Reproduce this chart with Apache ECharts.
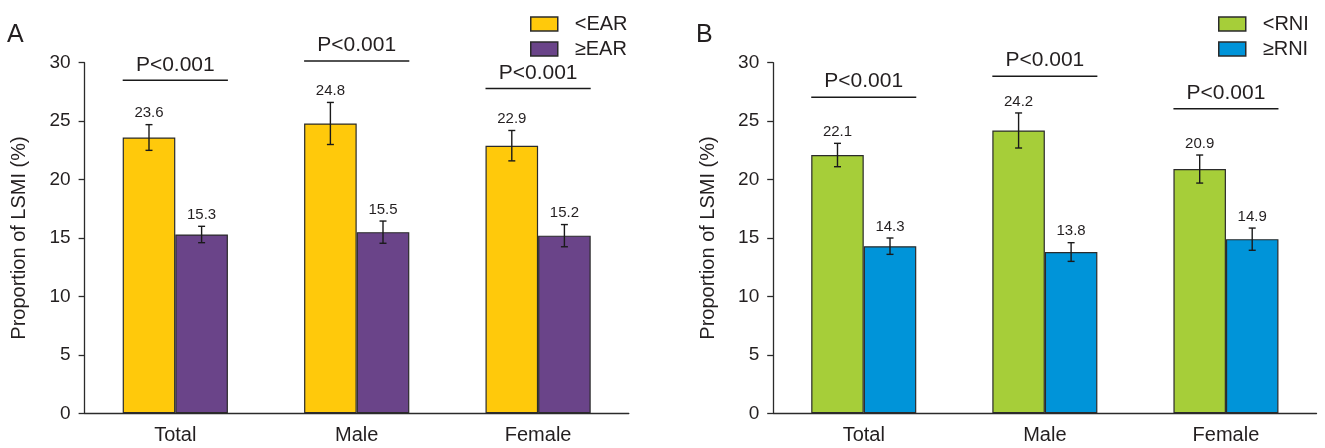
<!DOCTYPE html>
<html><head><meta charset="utf-8">
<script src="https://cdn.jsdelivr.net/npm/echarts@6/dist/echarts.min.js"></script>
<style>html,body{margin:0;padding:0;background:#fff}#c{width:1325px;height:448px}</style>
</head><body><div id="c"></div>
<script>
// ---- data ----
const categories = ['Total', 'Male', 'Female'];
const yTicks = { min: 0, max: 30, interval: 5 };
const earBelow = [23.6, 24.8, 22.9];
const earAbove = [15.3, 15.5, 15.2];
const earBelowErr = [1.1, 1.8, 1.3];
const earAboveErr = [0.7, 0.95, 0.95];
const rniBelow = [22.1, 24.2, 20.9];
const rniAbove = [14.3, 13.8, 14.9];
const rniBelowErr = [1.0, 1.5, 1.2];
const rniAboveErr = [0.7, 0.8, 0.95];
const pTextA = ['P<0.001', 'P<0.001', 'P<0.001'];
const pTextB = ['P<0.001', 'P<0.001', 'P<0.001'];
const pLevelA = [28.5, 30.15, 27.8];
const pLevelB = [27.05, 28.85, 26.05];
const seriesNamesA = ['<EAR', '≥EAR'];
const seriesNamesB = ['<RNI', '≥RNI'];
const panelLabels = ['A', 'B'];
const yAxisTitle = 'Proportion of LSMI (%)';

// ---- style ----
const FONT = '"Liberation Sans", Arial, Helvetica, sans-serif';
const TXT = '#231f20';
const EDGE = '#2b2b2b';
const BAR_PCT = 0.29;
const colA = ['#ffc90b', '#6a4489'];
const colB = ['#a6ce39', '#0094d9'];

function errRender(side) {
  return function (params, api) {
    const c = api.value(0), v = api.value(1), e = api.value(2);
    const band = api.size([1, 0])[0];
    const bw = band * BAR_PCT;
    const x = api.coord([c, v])[0] + side * bw / 2;
    const yT = api.coord([c, v + e])[1];
    const yB = api.coord([c, v - e])[1];
    const cap = 3.5;
    const ls = { stroke: '#1a1a1a', lineWidth: 1.4 };
    return {
      type: 'group', children: [
        { type: 'line', shape: { x1: x, y1: yT, x2: x, y2: yB }, style: ls },
        { type: 'line', shape: { x1: x - cap, y1: yT, x2: x + cap, y2: yT }, style: ls },
        { type: 'line', shape: { x1: x - cap, y1: yB, x2: x + cap, y2: yB }, style: ls },
        { type: 'text', x: x, y: yT - 4, style: { text: v.toFixed(1), align: 'center', verticalAlign: 'bottom', fontSize: 15, fontFamily: FONT, fill: TXT } }
      ]
    };
  };
}
function pRender(texts) {
  return function (params, api) {
    const c = api.value(0), lv = api.value(1);
    const band = api.size([1, 0])[0];
    const bw = band * BAR_PCT;
    const p = api.coord([c, lv]);
    return {
      type: 'group', children: [
        { type: 'line', shape: { x1: p[0] - bw, y1: p[1], x2: p[0] + bw, y2: p[1] }, style: { stroke: '#1a1a1a', lineWidth: 1.5 } },
        { type: 'text', x: p[0], y: p[1] - 5, style: { text: texts[params.dataIndex], align: 'center', verticalAlign: 'bottom', fontSize: 21, fontFamily: FONT, fill: TXT } }
      ]
    };
  };
}
const errData = (vals, errs) => vals.map((v, i) => [i, v, errs[i]]);
const pData = (lv) => lv.map((v, i) => [i, v]);

function xAx(g) {
  return {
    type: 'category', gridIndex: g, data: categories,
    axisLine: { lineStyle: { color: EDGE, width: 1.3 } },
    axisTick: { length: 8, lineStyle: { color: EDGE, width: 1.3 } },
    axisLabel: { fontSize: 20, fontFamily: FONT, color: TXT, margin: 12 }
  };
}
function yAx(g) {
  return {
    type: 'value', gridIndex: g, min: yTicks.min, max: yTicks.max, interval: yTicks.interval,
    name: yAxisTitle, nameLocation: 'middle', nameGap: 55,
    nameTextStyle: { fontSize: 20, fontFamily: FONT, color: TXT },
    axisLine: { show: true, lineStyle: { color: EDGE, width: 1.3 } },
    axisTick: { show: true, length: 6, lineStyle: { color: EDGE, width: 1.3 } },
    axisLabel: { fontSize: 19, fontFamily: FONT, color: TXT, margin: 14 },
    splitLine: { show: false }
  };
}
function barS(name, g, data, color) {
  return {
    name: name, type: 'bar', xAxisIndex: g, yAxisIndex: g, data: data,
    barWidth: (BAR_PCT * 100) + '%', barGap: '0%',
    itemStyle: { color: color, borderColor: EDGE, borderWidth: 1.2 },
    emphasis: { disabled: true }
  };
}
function customS(g, data, render) {
  return { type: 'custom', xAxisIndex: g, yAxisIndex: g, data: data, renderItem: render, clip: false, z: 5, silent: true };
}
function legendCfg(names, left) {
  return {
    data: names.map(n => ({ name: n, icon: 'rect' })), orient: 'vertical', left: left, top: 9,
    itemWidth: 27, itemHeight: 14, itemGap: 5,
    itemStyle: { borderColor: EDGE, borderWidth: 1.5 },
    textStyle: { fontSize: 20, lineHeight: 20, fontFamily: FONT, color: TXT, padding: [0, 0, 0, 12] },
    selectedMode: false
  };
}

const chart = echarts.init(document.getElementById('c'), null, { renderer: 'canvas' });
chart.setOption({
  animation: false,
  backgroundColor: '#fff',
  title: [
    { text: panelLabels[0], left: 7, top: 23, padding: 0, textStyle: { fontSize: 25, fontWeight: 'normal', fontFamily: FONT, color: TXT } },
    { text: panelLabels[1], left: 696, top: 23, padding: 0, textStyle: { fontSize: 25, fontWeight: 'normal', fontFamily: FONT, color: TXT } }
  ],
  legend: [legendCfg(seriesNamesA, 525), legendCfg(seriesNamesB, 1213)],
  grid: [
    { left: 84.6, right: 696.2, top: 62.7, bottom: 34.7 },
    { left: 773.2, right: 8.5, top: 62.7, bottom: 34.7 }
  ],
  xAxis: [xAx(0), xAx(1)],
  yAxis: [yAx(0), yAx(1)],
  series: [
    barS(seriesNamesA[0], 0, earBelow, colA[0]),
    barS(seriesNamesA[1], 0, earAbove, colA[1]),
    barS(seriesNamesB[0], 1, rniBelow, colB[0]),
    barS(seriesNamesB[1], 1, rniAbove, colB[1]),
    customS(0, errData(earBelow, earBelowErr), errRender(-1)),
    customS(0, errData(earAbove, earAboveErr), errRender(1)),
    customS(1, errData(rniBelow, rniBelowErr), errRender(-1)),
    customS(1, errData(rniAbove, rniAboveErr), errRender(1)),
    customS(0, pData(pLevelA), pRender(pTextA)),
    customS(1, pData(pLevelB), pRender(pTextB))
  ]
});
</script></body></html>
